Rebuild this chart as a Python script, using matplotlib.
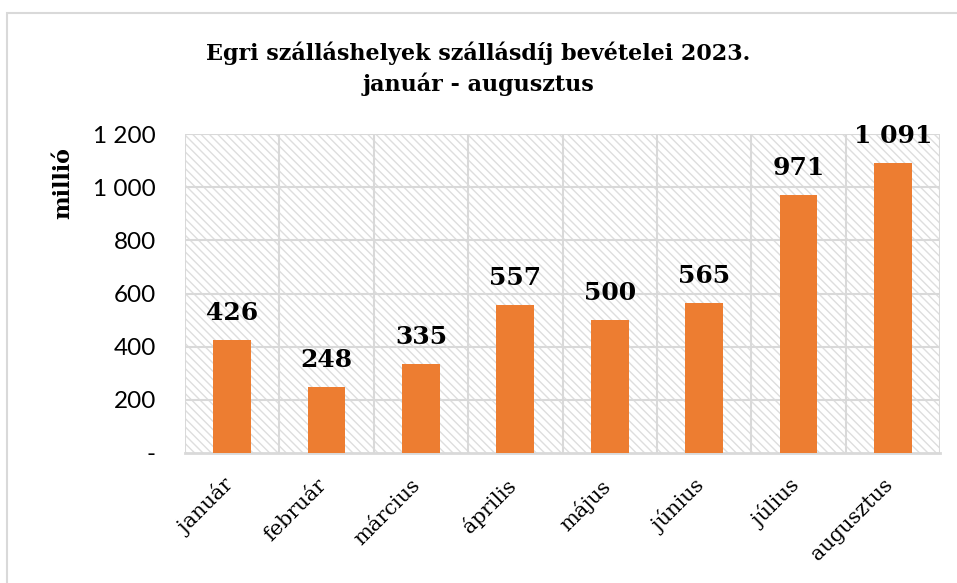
import matplotlib.pyplot as plt
import matplotlib.transforms as mtransforms
from matplotlib.patches import Rectangle

months = ["január", "február", "március", "április", "május", "június", "július", "augusztus"]
revenue = [426, 248, 335, 557, 500, 565, 971, 1091]
y_ticks = [0, 200, 400, 600, 800, 1000, 1200]
y_tick_labels = ["-", "200", "400", "600", "800", "1 000", "1 200"]
bar_labels = ["426", "248", "335", "557", "500", "565", "971", "1 091"]

plt.rcParams['font.family'] = ['DejaVu Serif']
plt.rcParams['hatch.linewidth'] = 1.0

fig = plt.figure(figsize=(9.57, 5.83), dpi=100)
ax = fig.add_axes([0.1933, 0.223, 0.789, 0.547])

# háttér sraffozás
bg = Rectangle((0, 0), 1, 1, transform=ax.transAxes, facecolor='white',
               edgecolor='#dedede', hatch='\\\\\\\\', lw=0, zorder=0)
ax.add_patch(bg)

x = list(range(len(months)))
ax.bar(x, revenue, width=0.4, color='#ED7D31', zorder=3)

for xi, v, lab in zip(x, revenue, bar_labels):
    ax.annotate(lab, (xi, v), xytext=(0, 11), textcoords='offset points',
                ha='center', va='bottom', fontsize=18, fontweight='bold', zorder=4)

ax.set_xlim(-0.5, len(months) - 0.5)
ax.set_ylim(0, 1200)
ax.set_yticks(y_ticks)
ax.set_yticklabels(y_tick_labels, fontsize=17.5, family=['Lato'])
ax.set_xticks(x)
ax.set_xticklabels(months, rotation=45, ha='right', rotation_mode='anchor', fontsize=15)
ax.tick_params(length=0)
ax.tick_params(axis='y', pad=21)
ax.tick_params(axis='x', pad=16)

# hónapnevek kicsit balra
shift = mtransforms.ScaledTranslation(-10 / 100, 0, fig.dpi_scale_trans)
for lbl in ax.get_xticklabels():
    lbl.set_transform(lbl.get_transform() + shift)

# rácsvonalak
for yv in y_ticks[1:]:
    ax.axhline(yv, color='#d9d9d9', lw=1.5, zorder=1)
for b in range(len(months) + 1):
    ax.axvline(b - 0.5, color='#d9d9d9', lw=1.5, zorder=1)

for s in ['top', 'right', 'left']:
    ax.spines[s].set_visible(False)
ax.spines['bottom'].set_color('#d9d9d9')
ax.spines['bottom'].set_linewidth(2)

ax.set_ylabel("millió", fontsize=16, fontweight='bold')
ax.yaxis.set_label_coords(-0.146, 0.846)

fig.text(0.5, 0.882, "Egri szálláshelyek szállásdíj bevételei 2023.\njanuár - augusztus",
         ha='center', va='center', fontsize=16, fontweight='bold', linespacing=1.4)

fig.patches.append(Rectangle((0.0073, -0.1), 1.1, 1.0777, transform=fig.transFigure,
                             fill=False, edgecolor='#d9d9d9', lw=1.5))

fig.savefig("out.png", dpi=100)
